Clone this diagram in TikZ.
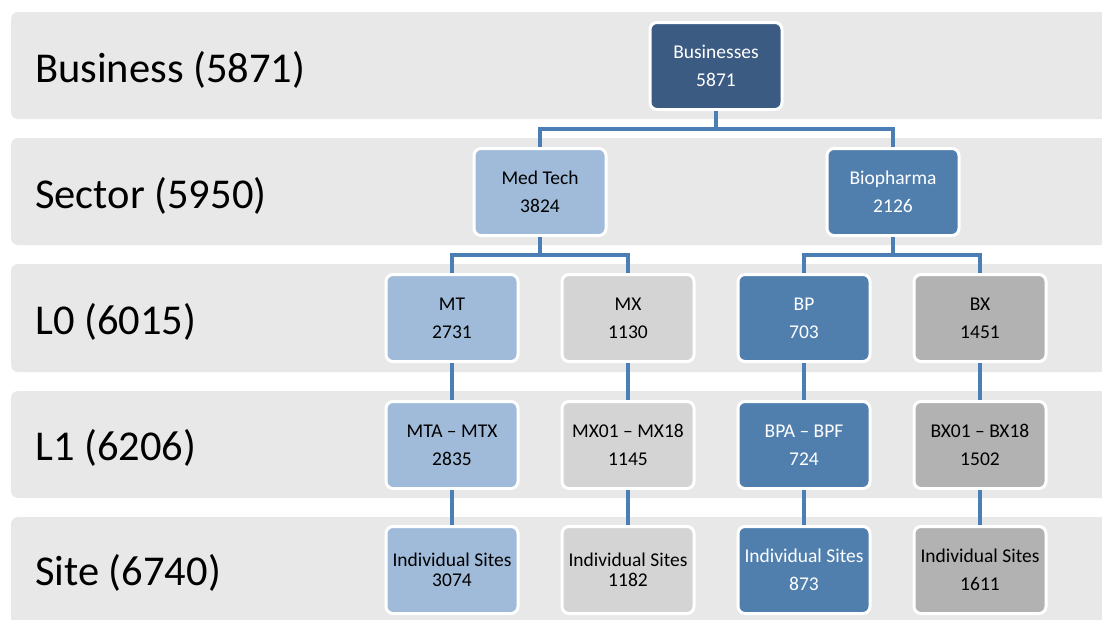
\documentclass[tikz,border=0pt]{standalone}
\usepackage{fontspec}
\setmainfont{Carlito}
\definecolor{bandgray}{RGB}{232,232,232}
\definecolor{darkblue}{RGB}{60,91,130}
\definecolor{midblue}{RGB}{80,127,174}
\definecolor{lightblue}{RGB}{160,187,218}
\definecolor{lightgray}{RGB}{212,212,212}
\definecolor{midgray}{RGB}{178,178,178}
\definecolor{connblue}{RGB}{76,126,182}
\tikzset{
  x=1pt, y=1pt,
  band/.style={fill=bandgray, rounded corners=7pt},
  lvl/.style={anchor=west, inner sep=0pt, font=\fontsize{42.5}{42}\selectfont},
  box/.style={draw=white, line width=3pt, rounded corners=7pt, minimum width=132pt,
    minimum height=87pt, align=center, inner sep=0pt, font=\fontsize{19.5}{28}\selectfont},
  tight/.style={font=\fontsize{19.5}{19.5}\selectfont},
  bdark/.style={box, fill=darkblue, text=white},
  bmid/.style={box, fill=midblue, text=white},
  blight/.style={box, fill=lightblue, text=black},
  bgrayl/.style={box, fill=lightgray, text=black},
  bgrayd/.style={box, fill=midgray, text=black},
  conn/.style={draw=connblue, line width=3.6pt}
}
\begin{document}
\begin{tikzpicture}
\useasboundingbox (0,0) rectangle (1102,-619);
\clip (0,0) rectangle (1102,-619);
% bands
\fill[band] (11,-12) rectangle (1115,-119);
\fill[band] (11,-138) rectangle (1115,-245);
\fill[band] (11,-264) rectangle (1115,-372);
\fill[band] (11,-391) rectangle (1115,-498);
\fill[band] (11,-517) rectangle (1115,-630);
% level labels
\node[lvl] (lb) at (35,-70) {Business (5871)};
\node[lvl] (ls) at (35,-196) {Sector (5950)};
\node[lvl] (l0) at (35,-322) {L0 (6015)};
\node[lvl] (l1) at (35,-448) {L1 (6206)};
\node[lvl] (lsi) at (35,-573) {Site (6740)};
% connector elbows
\coordinate (hb) at (716,-129);
\coordinate (hm) at (540,-255);
\coordinate (hp) at (893,-255);
% boxes
\node[bdark] (B) at (716,-66) {Businesses\\5871};
\node[blight] (Med) at (540,-192) {Med Tech\\3824};
\node[bmid] (Bio) at (893,-192) {Biopharma\\2126};
\node[blight] (MT) at (452,-318) {MT\\2731};
\node[bgrayl] (MX) at (628,-318) {MX\\1130};
\node[bmid] (BP) at (804,-318) {BP\\703};
\node[bgrayd] (BX) at (980,-318) {BX\\1451};
\node[blight] (MT1) at (452,-445) {MTA – MTX\\2835};
\node[bgrayl] (MX1) at (628,-445) {MX01 – MX18\\1145};
\node[bmid] (BP1) at (804,-445) {BPA – BPF\\724};
\node[bgrayd] (BX1) at (980,-445) {BX01 – BX18\\1502};
\node[blight, tight] (MT2) at (452,-570) {Individual Sites\\3074};
\node[bgrayl, tight] (MX2) at (628,-570) {Individual Sites\\1182};
\node[bmid] (BP2) at (804,-570) {Individual Sites\\873};
\node[bgrayd] (BX2) at (980,-570) {Individual Sites\\1611};
% connectors
\draw[conn] (B.south) -- (B.south |- hb);
\draw[conn] (Med.north) |- (hb) -| (Bio.north);
\draw[conn] (Med.south) -- (Med.south |- hm);
\draw[conn] (MT.north) |- (hm) -| (MX.north);
\draw[conn] (Bio.south) -- (Bio.south |- hp);
\draw[conn] (BP.north) |- (hp) -| (BX.north);
\draw[conn] (MT.south) -- (MT1.north);
\draw[conn] (MX.south) -- (MX1.north);
\draw[conn] (BP.south) -- (BP1.north);
\draw[conn] (BX.south) -- (BX1.north);
\draw[conn] (MT1.south) -- (MT2.north);
\draw[conn] (MX1.south) -- (MX2.north);
\draw[conn] (BP1.south) -- (BP2.north);
\draw[conn] (BX1.south) -- (BX2.north);
\end{tikzpicture}
\end{document}
